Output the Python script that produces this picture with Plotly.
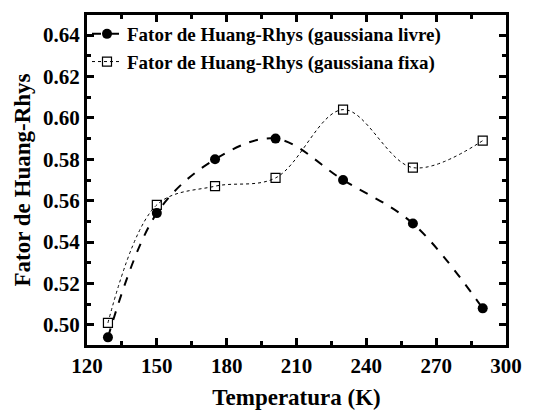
import plotly.graph_objects as go

temp = [129, 150, 175, 201, 230, 260, 290]
livre = [0.494, 0.554, 0.580, 0.590, 0.570, 0.549, 0.508]
fixa = [0.501, 0.558, 0.567, 0.571, 0.604, 0.576, 0.589]

font = "Liberation Serif"
fig = go.Figure()
fig.add_trace(go.Scatter(
    x=temp, y=livre, mode="lines+markers",
    name="<b>Fator de Huang-Rhys (gaussiana livre)</b>",
    line=dict(color="black", width=2, dash="dash", shape="spline", smoothing=1.0),
    marker=dict(symbol="circle", size=10, color="black"),
))
fig.add_trace(go.Scatter(
    x=temp, y=fixa, mode="lines+markers",
    name="<b>Fator de Huang-Rhys (gaussiana fixa)</b>",
    line=dict(color="black", width=1, dash="dot", shape="spline", smoothing=1.0),
    marker=dict(symbol="square-open", size=9, color="black", line=dict(width=1.2)),
))

axis_common = dict(
    showline=True, linecolor="black", linewidth=3, mirror="ticks",
    ticks="inside", ticklen=7, tickwidth=2.5, tickcolor="black",
    showgrid=False, zeroline=False, automargin=False,
    tickfont=dict(family=font, size=21, color="black"),
)
xt = [120, 150, 180, 210, 240, 270, 300]
fig.update_xaxes(
    range=[120, 300], tickvals=xt,
    ticktext=["<b>%d</b>" % v for v in xt],
    minor=dict(dtick=15, ticks="inside", ticklen=4, tickwidth=2.5, tickcolor="black"),
    title=dict(text="<b>Temperatura (K)</b>", font=dict(family=font, size=23, color="black"), standoff=12),
    **axis_common,
)
yt = [0.50, 0.52, 0.54, 0.56, 0.58, 0.60, 0.62, 0.64]
fig.update_yaxes(
    range=[0.4903, 0.6497], tickvals=yt,
    ticktext=["<b>%.2f</b>" % v for v in yt],
    minor=dict(tickvals=[0.49 + 0.02 * i for i in range(9)], ticks="inside", ticklen=4, tickwidth=2.5, tickcolor="black"),
    title=dict(text="<b>Fator de Huang-Rhys</b>", font=dict(family=font, size=23, color="black"), standoff=6),
    **axis_common,
)
fig.update_layout(
    width=543, height=411,
    margin=dict(l=87, r=37, t=15, b=66),
    plot_bgcolor="white", paper_bgcolor="white",
    font=dict(family=font, color="black"),
    showlegend=True,
    legend=dict(x=0.0, y=1.0, xanchor="left", yanchor="top",
                bgcolor="rgba(0,0,0,0)", font=dict(family=font, size=19, color="black"),
                itemwidth=30, tracegroupgap=0),
)
fig.write_html("out.html")
